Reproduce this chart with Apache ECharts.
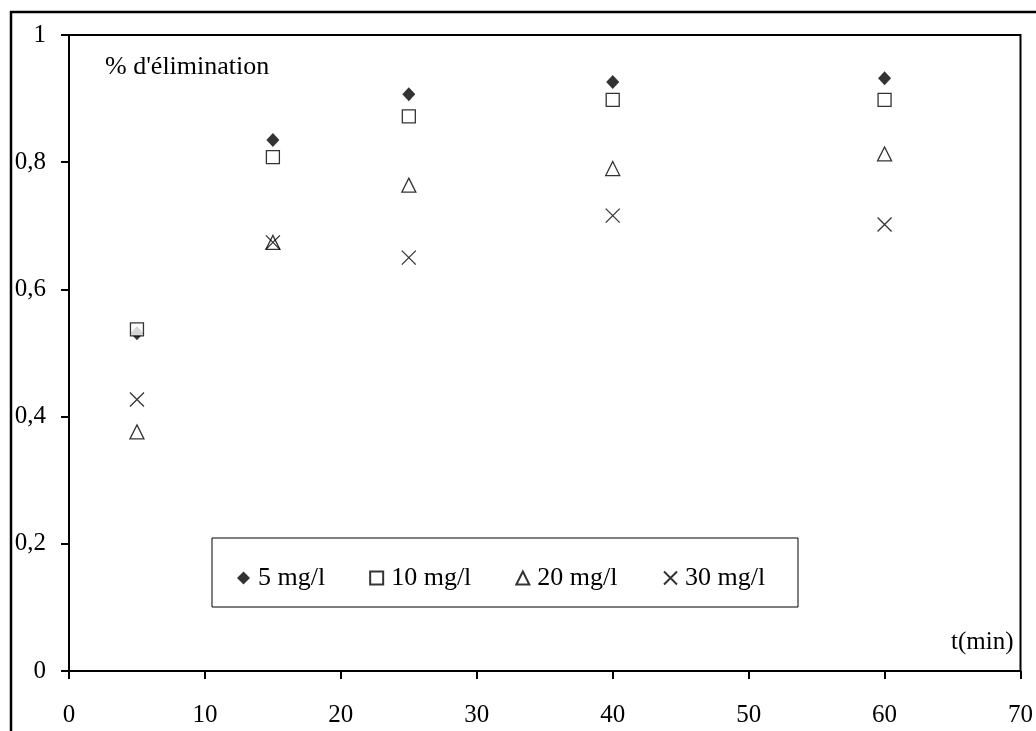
<!DOCTYPE html>
<html>
<head>
<meta charset="utf-8">
<script src="https://cdn.jsdelivr.net/npm/echarts@6/dist/echarts.min.js"></script>
<style>
    html, body { margin: 0; padding: 0; background: #fff; }
    #chart { width: 1036px; height: 731px; }
</style>
</head>
<body>
<div id="chart"></div>
<script>
// temps (min)
var times = [5, 15, 25, 40, 60];
// % d'élimination par concentration initiale
var c5 = [0.531, 0.835, 0.907, 0.926, 0.932];
var c10 = [0.537, 0.808, 0.872, 0.898, 0.898];
var c20 = [0.376, 0.674, 0.764, 0.790, 0.813];
var c30 = [0.427, 0.674, 0.650, 0.716, 0.702];
var seriesNames = ['5 mg/l', '10 mg/l', '20 mg/l', '30 mg/l'];

var font = '"Liberation Serif", "Times New Roman", serif';

function pairs(ys) {
    return times.map(function (t, i) { return [t, ys[i]]; });
}

var myChart = echarts.init(document.getElementById('chart'));

var option = {
    animation: false,
    textStyle: { fontFamily: font, color: '#000' },
    graphic: [{
        type: 'rect',
        shape: { x: 11, y: 12, width: 1100, height: 800 },
        style: { fill: 'none', stroke: '#000', lineWidth: 2.5 },
        z: -1
    }, {
        type: 'rect',
        shape: { x: 212, y: 538, width: 586, height: 69 },
        style: { fill: '#fff', stroke: '#000', lineWidth: 1 },
        z: 5
    }],
    grid: {
        left: 69, top: 35, right: 11, bottom: 60,
        show: true, borderColor: '#000', borderWidth: 2
    },
    legend: {
        data: seriesNames,
        left: 237, top: 565, padding: 0,
        itemGap: 44, itemWidth: 13, itemHeight: 13,
        textStyle: { fontFamily: font, fontSize: 26, color: '#000', padding: [0, 0, 0, 3] },
        z: 10
    },
    xAxis: {
        type: 'value', min: 0, max: 70, interval: 10,
        name: 't(min)', nameLocation: 'end', nameGap: -7,
        nameTextStyle: {
            fontFamily: font, fontSize: 25, color: '#000',
            align: 'right', verticalAlign: 'bottom', padding: [0, 0, 16, 0]
        },
        axisLine: { lineStyle: { color: '#000', width: 2 } },
        axisTick: { length: 8, lineStyle: { color: '#000', width: 2 } },
        axisLabel: { margin: 32, fontSize: 25, color: '#000', fontFamily: font },
        splitLine: { show: false }
    },
    yAxis: {
        type: 'value', min: 0, max: 1, interval: 0.2,
        name: "% d'élimination", nameLocation: 'end', nameGap: -45,
        nameTextStyle: {
            fontFamily: font, fontSize: 26, color: '#000',
            align: 'left', padding: [0, 0, 0, 36]
        },
        axisLine: { lineStyle: { color: '#000', width: 2 } },
        axisTick: { length: 8, lineStyle: { color: '#000', width: 2 } },
        axisLabel: {
            margin: 23, fontSize: 25, color: '#000', fontFamily: font,
            formatter: function (v) { return String(v).replace('.', ','); }
        },
        splitLine: { show: false }
    },
    series: [{
        name: '5 mg/l', type: 'scatter', data: pairs(c5),
        symbol: 'diamond', symbolSize: [13, 14],
        itemStyle: { color: '#000' }
    }, {
        name: '10 mg/l', type: 'scatter', data: pairs(c10),
        symbol: 'rect', symbolSize: 13,
        itemStyle: { color: '#fff', borderColor: '#000', borderWidth: 1.3 }
    }, {
        name: '20 mg/l', type: 'scatter', data: pairs(c20),
        symbol: 'triangle', symbolSize: [14, 14],
        itemStyle: { color: '#fff', borderColor: '#000', borderWidth: 1.3 }
    }, {
        name: '30 mg/l', type: 'scatter', data: pairs(c30),
        symbol: 'path://M0,0L10,10M10,0L0,10', symbolSize: 14,
        itemStyle: { color: 'none', borderColor: '#000', borderWidth: 1.3 }
    }]
};

myChart.setOption(option);
</script>
</body>
</html>
